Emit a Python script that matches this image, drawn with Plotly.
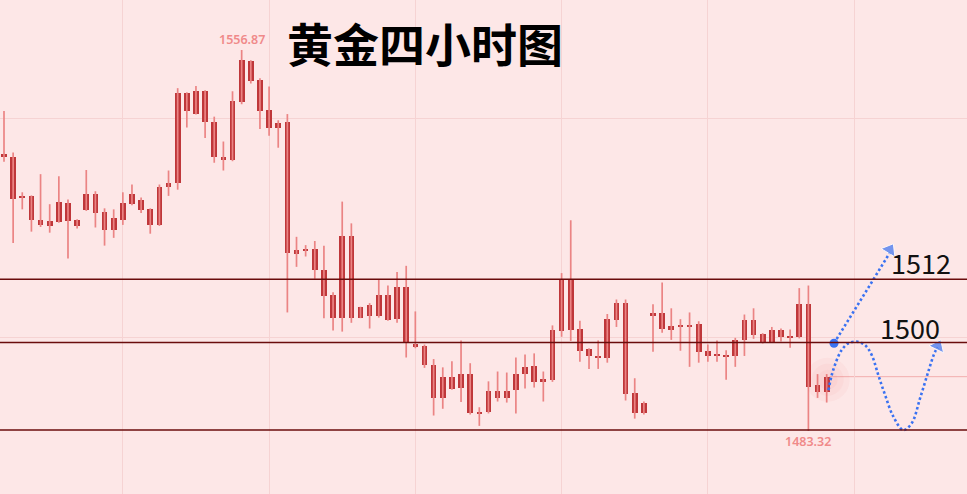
import plotly.graph_objects as go

# ---- data (4-hour gold candles) ----
OPEN = [1536.7, 1536.2, 1528.4, 1528.7, 1524.1, 1522.9, 1523.7, 1527.3, 1522.8, 1526.0,
        1529.0, 1525.5, 1522.1, 1524.1, 1527.1, 1528.0, 1526.1, 1523.1, 1530.4, 1531.1,
        1548.5, 1544.6, 1548.9, 1543.0, 1536.3, 1535.6, 1546.8, 1554.7, 1551.1, 1545.2,
        1541.9, 1543.0, 1517.5, 1518.1, 1518.4, 1514.3, 1509.5, 1505.2, 1521.0, 1505.2,
        1507.6, 1505.6, 1509.5, 1505.0, 1511.2, 1500.2, 1499.7, 1496.0, 1489.7, 1493.7,
        1491.7, 1494.3, 1486.7, 1486.9, 1491.0, 1489.7, 1491.3, 1494.4, 1495.8, 1492.8,
        1493.1, 1502.7, 1512.6, 1503.0, 1499.1, 1497.5, 1497.5, 1504.7, 1508.0, 1490.6,
        1486.7, 1505.7, 1506.0, 1502.9, 1503.5, 1503.8, 1503.9, 1498.7, 1497.8, 1498.0,
        1497.8, 1500.8, 1504.7, 1502.0, 1500.4, 1502.8, 1501.3, 1501.4, 1507.8, 1492.2,
        1490.9]
HIGH = [1545.1, 1537.1, 1529.4, 1528.8, 1532.9, 1527.1, 1532.5, 1528.0, 1524.2, 1533.7,
        1529.6, 1526.3, 1526.1, 1529.4, 1530.9, 1528.4, 1526.3, 1530.9, 1533.6, 1549.5,
        1548.7, 1549.9, 1549.1, 1544.0, 1539.2, 1548.9, 1556.87, 1554.9, 1551.4, 1549.8,
        1543.3, 1544.5, 1520.8, 1519.2, 1520.0, 1519.1, 1510.1, 1527.6, 1523.4, 1507.3,
        1508.0, 1512.5, 1511.4, 1514.0, 1515.2, 1506.4, 1500.0, 1497.2, 1495.6, 1496.8,
        1500.8, 1496.4, 1487.9, 1492.9, 1494.8, 1494.6, 1497.5, 1498.1, 1498.3, 1494.8,
        1503.7, 1513.8, 1524.0, 1504.6, 1499.3, 1500.8, 1505.9, 1508.7, 1508.7, 1493.5,
        1489.0, 1507.8, 1512.0, 1507.0, 1504.9, 1506.2, 1504.5, 1500.0, 1500.8, 1498.9,
        1501.3, 1505.8, 1507.0, 1502.2, 1503.4, 1503.1, 1502.9, 1510.9, 1511.4, 1494.3,
        1494.3]
LOW = [1535.3, 1519.6, 1526.1, 1521.8, 1522.7, 1521.6, 1523.5, 1516.6, 1522.4, 1525.8,
       1522.6, 1519.1, 1520.6, 1523.1, 1526.9, 1525.4, 1521.4, 1522.9, 1528.7, 1529.9,
       1541.9, 1544.4, 1539.9, 1535.1, 1533.6, 1535.4, 1546.4, 1550.4, 1541.6, 1540.3,
       1538.0, 1506.2, 1515.0, 1517.0, 1512.7, 1505.1, 1502.7, 1502.5, 1504.2, 1505.1,
       1503.1, 1505.2, 1504.6, 1504.2, 1497.5, 1499.3, 1495.5, 1486.3, 1487.6, 1491.3,
       1488.9, 1486.5, 1484.3, 1486.7, 1489.0, 1488.8, 1486.7, 1491.5, 1491.7, 1489.0,
       1492.8, 1501.5, 1500.7, 1496.7, 1495.3, 1495.3, 1496.5, 1503.4, 1489.2, 1485.7,
       1486.5, 1498.6, 1502.3, 1500.9, 1498.8, 1495.7, 1496.5, 1496.7, 1496.7, 1493.2,
       1495.7, 1497.8, 1501.1, 1500.2, 1500.3, 1500.6, 1499.4, 1501.2, 1483.32, 1489.7,
       1488.8]
CLOSE = [1536.2, 1528.1, 1528.7, 1524.0, 1523.1, 1523.9, 1527.5, 1523.9, 1524.0, 1529.0,
         1525.4, 1522.1, 1524.4, 1527.3, 1529.0, 1526.0, 1523.1, 1530.5, 1531.1, 1548.5,
         1545.1, 1548.9, 1543.0, 1536.2, 1535.6, 1547.0, 1554.9, 1550.9, 1545.1, 1541.9,
         1542.7, 1517.6, 1518.3, 1518.4, 1514.3, 1509.4, 1505.2, 1521.0, 1505.2, 1507.2,
         1505.6, 1509.5, 1504.8, 1511.2, 1500.4, 1499.5, 1496.1, 1489.7, 1493.7, 1491.5,
         1494.3, 1486.7, 1487.0, 1491.0, 1489.7, 1491.0, 1494.3, 1495.6, 1492.8, 1493.3,
         1502.8, 1512.4, 1502.9, 1498.8, 1497.7, 1497.8, 1504.9, 1508.0, 1490.5, 1486.7,
         1488.7, 1506.0, 1503.0, 1503.5, 1503.8, 1503.3, 1498.6, 1497.8, 1498.1, 1497.7,
         1500.8, 1504.7, 1501.9, 1500.4, 1502.8, 1501.5, 1501.7, 1507.8, 1491.9, 1490.9,
         1493.8]
IDX = list(range(len(OPEN)))

LEVELS = [1512.6, 1500.4, 1483.5]          # drawn horizontal support / resistance lines
LEVEL_LABELS = ["1512", "1500"]
HIGH_LABEL = "1556.87"
LOW_LABEL = "1483.32"
TITLE = "黄金四小时图"

# hand-drawn forecast paths (bar index, price)
PATH_UP_X = [90.8, 96.9]
PATH_UP_Y = [1500.25, 1517.7]
PATH_WAVE_X = [90.2, 90.55, 91.1, 91.64, 92.37, 93.28, 94.19, 94.92, 95.65, 96.38,
               97.29, 98.38, 99.3, 100.21, 101.12, 101.85, 102.15]
PATH_WAVE_Y = [1491.2, 1494.1, 1497.0, 1498.95, 1500.25, 1500.56, 1499.9, 1498.0, 1494.1, 1490.3,
               1486.1, 1483.5, 1484.8, 1489.6, 1494.8, 1498.6, 1499.4]

BG = "#fde7e7"
BODY = "#bf373a"
WICK = "#eb8484"
LEVEL_COLOR = "#6a0c0c"
BLUE = "#3a72f2"
GRID = "#f6d3d3"

fig = go.Figure()

# wicks
wx, wy = [], []
for i, h, l in zip(IDX, HIGH, LOW):
    wx += [i, i, None]
    wy += [l, h, None]
fig.add_trace(go.Scatter(x=wx, y=wy, mode="lines", line=dict(color=WICK, width=1.7),
                         hoverinfo="skip"))

# bodies
base = [min(o, c) for o, c in zip(OPEN, CLOSE)]
height = [max(abs(c - o), 0.35) for o, c in zip(OPEN, CLOSE)]
fig.add_trace(go.Bar(x=IDX, y=height, base=base, width=0.62,
                     marker=dict(color=BODY, line=dict(width=0))))

# glow around the last candle
last = IDX[-1]
fig.add_trace(go.Scatter(x=[last + 0.1] * 3, y=[CLOSE[-1] - 0.6] * 3, mode="markers",
                         marker=dict(size=[44, 32, 20], color="rgba(232,90,90,0.07)",
                                     line=dict(width=0)),
                         hoverinfo="skip"))

# current price line
fig.add_shape(type="line", xref="x", yref="y", x0=last + 0.3, x1=106, y0=CLOSE[-1], y1=CLOSE[-1],
              line=dict(color="rgba(238,150,150,0.7)", width=1), layer="below")

# support / resistance lines
for lv in LEVELS:
    fig.add_shape(type="line", xref="paper", yref="y", x0=0, x1=1, y0=lv, y1=lv,
                  line=dict(color=LEVEL_COLOR, width=1.6))

# forecast arrows
fig.add_trace(go.Scatter(x=PATH_UP_X, y=PATH_UP_Y, mode="lines",
                         line=dict(color=BLUE, width=2.6, dash="2.5px,2.5px")))
fig.add_trace(go.Scatter(x=PATH_UP_X[:1], y=PATH_UP_Y[:1], mode="markers",
                         marker=dict(color=BLUE, size=9)))
fig.add_trace(go.Scatter(x=PATH_UP_X, y=[PATH_UP_Y[0], PATH_UP_Y[1] + 0.6], mode="markers",
                         marker=dict(symbol="triangle-up", size=[0, 14], color=BLUE,
                                     angleref="previous")))
fig.add_trace(go.Scatter(x=PATH_WAVE_X, y=PATH_WAVE_Y, mode="lines",
                         line=dict(color=BLUE, width=2.6, dash="2.5px,2.5px", shape="spline")))
fig.add_trace(go.Scatter(x=PATH_WAVE_X[-2:], y=[PATH_WAVE_Y[-2], PATH_WAVE_Y[-1] + 0.3],
                         mode="markers",
                         marker=dict(symbol="triangle-up", size=[0, 14], color=BLUE,
                                     angleref="previous")))

# texts
fig.add_annotation(x=96.8, y=1515.8, xref="x", yref="y", text=LEVEL_LABELS[0], showarrow=False,
                   xanchor="left", yanchor="middle",
                   font=dict(family="Noto Sans CJK SC", size=27, color="#111111"))
fig.add_annotation(x=95.6, y=1503.3, xref="x", yref="y", text=LEVEL_LABELS[1], showarrow=False,
                   xanchor="left", yanchor="middle",
                   font=dict(family="Noto Sans CJK SC", size=27, color="#111111"))
fig.add_annotation(x=HIGH.index(max(HIGH)), y=max(HIGH), xref="x", yref="y", text=HIGH_LABEL,
                   showarrow=False, yanchor="bottom", yshift=0,
                   font=dict(family="Noto Sans", size=12.5, color="#f08a8a", weight=600))
fig.add_annotation(x=LOW.index(min(LOW)), y=min(LOW), xref="x", yref="y", text=LOW_LABEL,
                   showarrow=False, yanchor="top", yshift=0,
                   font=dict(family="Noto Sans", size=12.5, color="#f08a8a", weight=600))
fig.add_annotation(x=0.4395, y=0.915, xref="paper", yref="paper", text=TITLE, showarrow=False,
                   xanchor="center", yanchor="middle",
                   font=dict(family="Noto Sans CJK SC", size=46, color="#000000", weight=700))

fig.update_layout(
    width=967, height=494, margin=dict(l=0, r=0, t=0, b=0),
    paper_bgcolor=BG, plot_bgcolor=BG, showlegend=False, bargap=0,
    xaxis=dict(range=[-0.4376, 105.35], showticklabels=False, zeroline=False,
               showgrid=True, gridcolor=GRID, gridwidth=1, tick0=13, dtick=16, fixedrange=True),
    yaxis=dict(range=[1471.15, 1566.52], showticklabels=False, zeroline=False,
               showgrid=True, gridcolor=GRID, gridwidth=1, tickvals=[1501.27, 1543.74],
               fixedrange=True),
)

fig.write_html("out.html", config={"displayModeBar": False},
               post_script="document.body.style.margin='0px';")
